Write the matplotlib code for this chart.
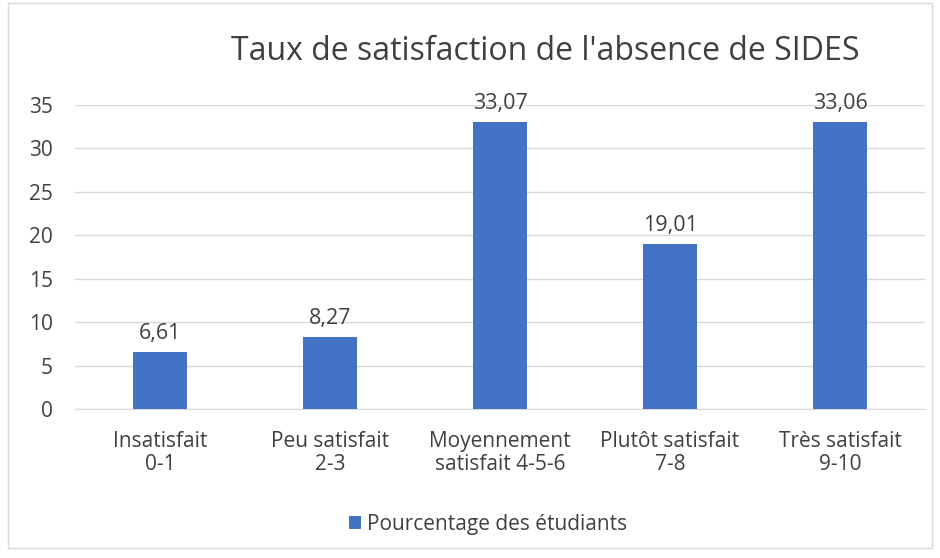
import matplotlib.pyplot as plt
from matplotlib.patches import Rectangle

categories = ["Insatisfait\n0-1", "Peu satisfait\n2-3", "Moyennement\nsatisfait 4-5-6",
              "Plutôt satisfait\n7-8", "Très satisfait\n9-10"]
values = [6.61, 8.27, 33.07, 19.01, 33.06]
value_labels = ["6,61", "8,27", "33,07", "19,01", "33,06"]
yticks = [0, 5, 10, 15, 20, 25, 30, 35]

BLUE = "#4472c4"
TXT = "#404040"
plt.rcParams["font.family"] = ["Open Sans", "DejaVu Sans"]

fig = plt.figure(figsize=(9.4, 5.58), dpi=100)
fig.patches.append(Rectangle((0.009, 0.018), 0.982, 0.976, transform=fig.transFigure,
                             fill=False, edgecolor="#d9d9d9", lw=1))
ax = fig.add_axes([0.08, 0.267, 0.904, 0.545])

x = range(len(values))
ax.bar(x, values, width=0.32, color=BLUE, zorder=3, label="Pourcentage des étudiants")
for xi, v, lab in zip(x, values, value_labels):
    ax.text(xi, v + 0.9, lab, ha="center", va="bottom", fontsize=15.5, color=TXT)

ax.set_xlim(-0.5, len(values) - 0.5)
ax.set_ylim(0, 35)
ax.set_yticks(yticks)
ax.set_yticklabels([str(t) for t in yticks], fontsize=15, color=TXT)
ax.set_xticks(list(x))
ax.set_xticklabels(categories, fontsize=15, color=TXT, linespacing=1.1)
ax.tick_params(length=0)
ax.tick_params(axis="y", pad=16)
ax.tick_params(axis="x", pad=16)
ax.grid(axis="y", color="#d9d9d9", lw=1, zorder=0)
for s in ("top", "right", "left"):
    ax.spines[s].set_visible(False)
ax.spines["bottom"].set_color("#d9d9d9")

fig.text(0.58, 0.907, "Taux de satisfaction de l'absence de SIDES", ha="center", va="center",
         fontsize=23, color=TXT)
ax.legend(loc="center", bbox_to_anchor=(0.486, -0.38), frameon=False, fontsize=15,
          handlelength=0.6, handleheight=0.6, handletextpad=0.3, labelcolor=TXT)

fig.savefig("out.png", dpi=100)
